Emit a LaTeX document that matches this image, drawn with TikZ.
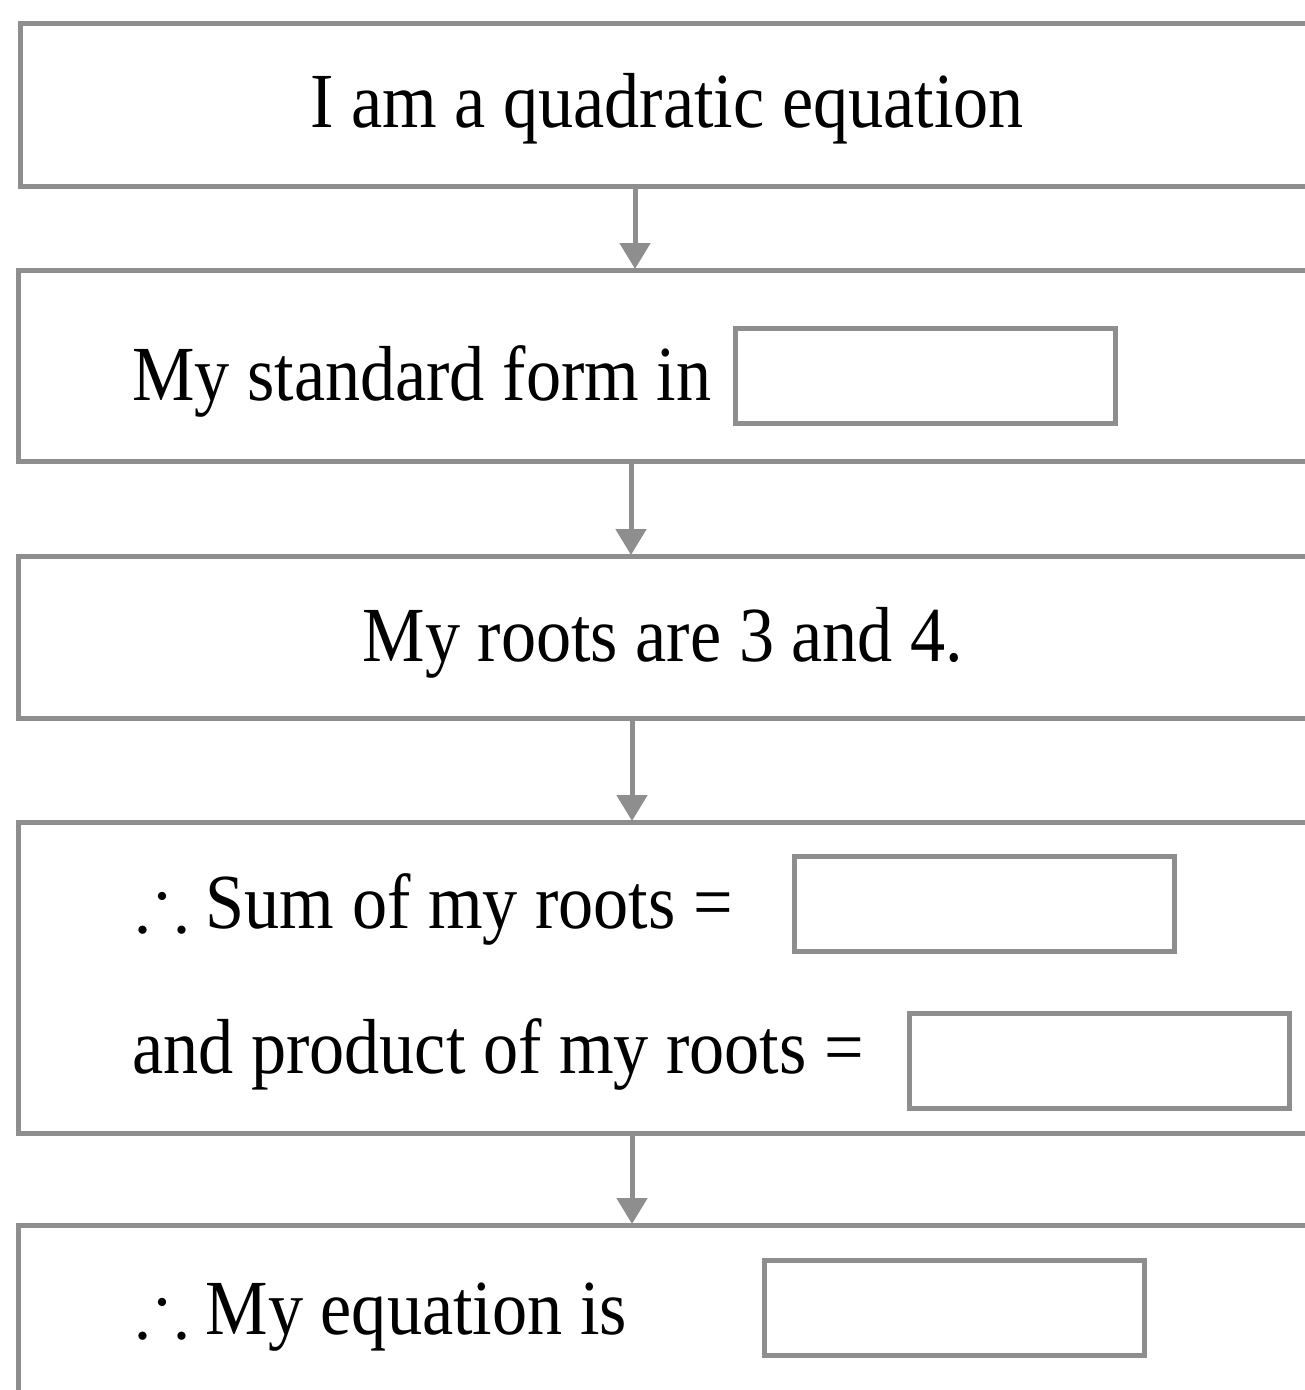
\documentclass[tikz,border=0pt]{standalone}
\usepackage{fontspec}
\usepackage{amssymb}
\setmainfont[FakeStretch=0.9]{Liberation Serif}
\usetikzlibrary{arrows.meta}
\definecolor{boxgray}{HTML}{8E8E8E}
\tikzset{
  outerbox/.style={draw=boxgray, line width=5pt, anchor=north west, inner sep=0pt, rectangle},
  innerbox/.style={draw=boxgray, line width=5pt, anchor=north west, inner sep=0pt, rectangle, minimum width=380pt, minimum height=95pt},
  lbl/.style={anchor=base west, inner sep=0pt, font=\fontsize{78}{90}\selectfont},
  clbl/.style={anchor=base, inner sep=0pt, font=\fontsize{78}{90}\selectfont},
  arr/.style={draw=boxgray, line width=5pt, -{Triangle[width=30pt,length=26pt]}, shorten >=-1pt}
}
\begin{document}
\begin{tikzpicture}[x=1pt,y=1pt]
\useasboundingbox (0,0) rectangle (1305,-1390);
\clip (0,0) rectangle (1305,-1390);
% outer boxes
\node[outerbox, minimum width=1320pt, minimum height=163pt] (b1) at (18,-21) {};
\node[outerbox, minimum width=1320pt, minimum height=191pt] (b2) at (16,-268) {};
\node[outerbox, minimum width=1320pt, minimum height=162pt] (b3) at (16,-554) {};
\node[outerbox, minimum width=1320pt, minimum height=311pt] (b4) at (16,-820) {};
\node[outerbox, minimum width=1320pt, minimum height=220pt] (b5) at (16,-1223) {};
% inner boxes
\node[innerbox] (i2) at (733,-326) {};
\node[innerbox] (i4a) at (792,-854) {};
\node[innerbox] (i4b) at (907,-1011) {};
\node[innerbox] (i5) at (762,-1258) {};
% texts
\node[clbl] (t1) at (667,-127) {I am a quadratic equation};
\node[lbl] (t2) at (132,-400) {My standard form in};
\node[clbl] (t3) at (663,-661) {My roots are 3 and 4.};
\node[lbl] (t4a) at (136,-928) {$\therefore$ Sum of my roots =};
\node[lbl] (t4b) at (132,-1073) {and product of my roots =};
\node[lbl] (t5) at (136,-1334) {$\therefore$ My equation is};
% arrows
\coordinate (x1) at (635,0);
\coordinate (x2) at (631,0);
\coordinate (x3) at (632,0);
\coordinate (x4) at (632,0);
\draw[arr] (b1.south -| x1) -- (b2.north -| x1);
\draw[arr] (b2.south -| x2) -- (b3.north -| x2);
\draw[arr] (b3.south -| x3) -- (b4.north -| x3);
\draw[arr] (b4.south -| x4) -- (b5.north -| x4);
\end{tikzpicture}
\end{document}
